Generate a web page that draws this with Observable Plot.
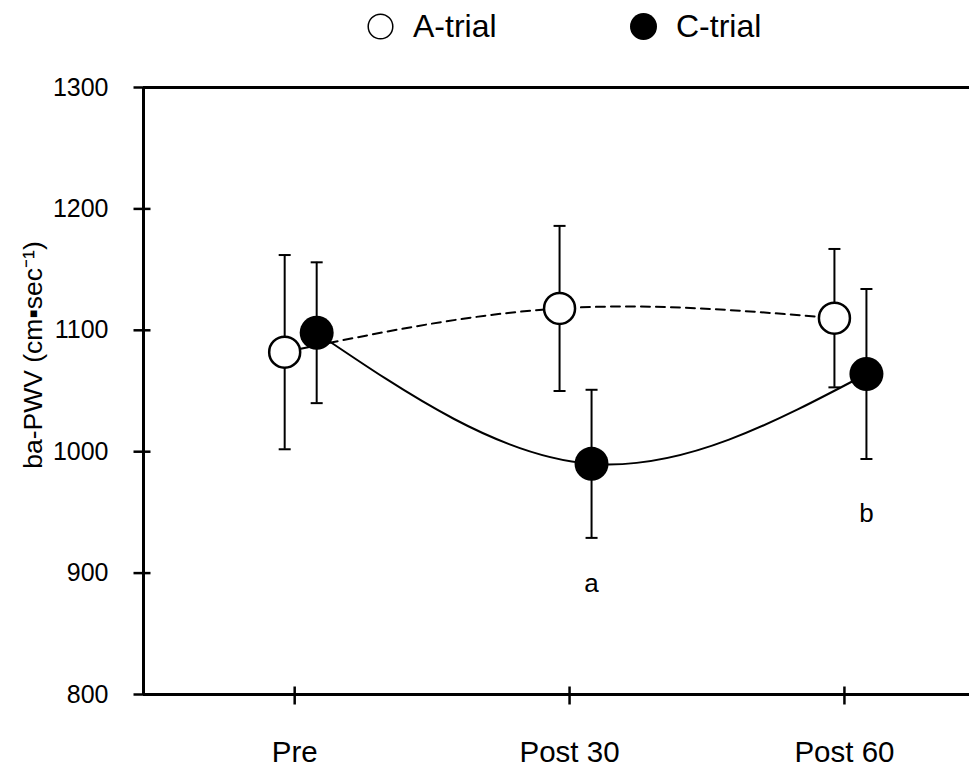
<!DOCTYPE html>
<html><head><meta charset="utf-8">
<script src="https://cdn.jsdelivr.net/npm/d3@7"></script>
<script src="https://cdn.jsdelivr.net/npm/@observablehq/plot@0.6"></script>
<style>
body{margin:0;background:#fff;font-family:"Liberation Sans",Arial,sans-serif;}
#legend{position:relative;height:55px;width:969px;}
.item{position:absolute;top:0;height:53px;display:flex;align-items:center;font-size:32px;color:#000;}
.item svg{margin-right:18px;}
</style></head><body>
<div id="legend"></div>
<div id="chart"></div>
<script>
const timepoints = ["Pre", "Post 30", "Post 60"];
const series = ["A-trial", "C-trial"];
const aMean = [1082, 1118, 1110];
const aSD = [80, 68, 57];
const cMean = [1098, 990, 1064];
const cSD = [58, 61, 70];
const annLabels = ["a", "b"];
const annIndex = [1, 2];
const annValue = [891, 949];
const yTicks = [800, 900, 1000, 1100, 1200, 1300];
const yTitle = "ba-PWV (cm\u25AAsec\u207B\u00B9)";

const rowsA = timepoints.map((t, i) => ({i, t, mean: aMean[i], sd: aSD[i]}));
const rowsC = timepoints.map((t, i) => ({i, t, mean: cMean[i], sd: cSD[i]}));
const ann = annLabels.map((l, k) => ({i: annIndex[k], v: annValue[k], label: l}));

// legend
const legend = document.getElementById("legend");
const legLeft = [366, 629];
series.forEach((s, k) => {
  const div = document.createElement("div");
  div.className = "item";
  div.style.left = legLeft[k] + "px";
  const filled = k === 1;
  div.innerHTML = `<svg width="29" height="29"><circle cx="14.5" cy="14.5" r="${filled ? 13.5 : 12.3}" fill="${filled ? "black" : "white"}" stroke="black" stroke-width="${filled ? 0 : 1.5}"/></svg><span>${s}</span>`;
  legend.appendChild(div);
});

const yTickSym = {draw(ctx) { ctx.moveTo(-10, 0); ctx.lineTo(7, 0); }};
const xTickSym = {draw(ctx) { ctx.moveTo(0, -8); ctx.lineTo(0, 10); }};
const capSym = {draw(ctx) { ctx.moveTo(-6, 0); ctx.lineTo(6, 0); }};

const xDomain = [-0.55, 2.455];
const dxA = -10, dxC = 22;

const errMarks = (rows, dx) => [
  Plot.ruleX(rows, {x: "i", y1: d => d.mean - d.sd, y2: d => d.mean + d.sd, dx, stroke: "black", strokeWidth: 2}),
  Plot.dot(rows, {x: "i", y: d => d.mean + d.sd, dx, symbol: capSym, fill: "none", stroke: "black", strokeWidth: 2}),
  Plot.dot(rows, {x: "i", y: d => d.mean - d.sd, dx, symbol: capSym, fill: "none", stroke: "black", strokeWidth: 2})
];

const chart = Plot.plot({
  width: 969, height: 714,
  marginTop: 32, marginBottom: 75, marginLeft: 143, marginRight: 0,
  x: {type: "linear", domain: xDomain},
  y: {domain: [800, 1300]},
  style: {fontFamily: "Liberation Sans, Arial, sans-serif", color: "black", background: "white", overflow: "visible"},
  marks: [
    Plot.ruleY([800, 1300], {stroke: "black", strokeWidth: 3}),
    Plot.ruleX([xDomain[0]], {y1: 800, y2: 1300, stroke: "black", strokeWidth: 3}),
    Plot.dot(yTicks, {y: d => d, frameAnchor: "left", symbol: yTickSym, fill: "none", stroke: "black", strokeWidth: 2.5}),
    Plot.axisY({ticks: yTicks, tickFormat: d3.format("d"), tickSize: 0, tickPadding: 35, fontSize: 25, label: null}),
    Plot.dot([0, 1, 2], {x: d => d, frameAnchor: "bottom", symbol: xTickSym, fill: "none", stroke: "black", strokeWidth: 2.5}),
    Plot.axisX({ticks: [0, 1, 2], tickFormat: i => timepoints[i], tickSize: 0, tickPadding: 47, fontSize: 29.5, label: null}),
    Plot.text([yTitle], {text: d => d, frameAnchor: "left", textAnchor: "middle", rotate: -90, dx: -110, dy: -36, fontSize: 26.5, fill: "black"}),
    Plot.line(rowsA, {x: "i", y: "mean", dx: dxA, curve: "natural", stroke: "black", strokeWidth: 2, strokeDasharray: "9,6"}),
    Plot.line(rowsC, {x: "i", y: "mean", dx: dxC, curve: "natural", stroke: "black", strokeWidth: 2}),
    ...errMarks(rowsA, dxA),
    ...errMarks(rowsC, dxC),
    Plot.dot(rowsA, {x: "i", y: "mean", dx: dxA, r: 15.5, fill: "white", stroke: "black", strokeWidth: 2.5}),
    Plot.dot(rowsC, {x: "i", y: "mean", dx: dxC, r: 17, fill: "black", stroke: "none"}),
    Plot.text(ann, {x: "i", y: "v", text: "label", dx: dxC, fontSize: 26, fill: "black"})
  ]
});
document.getElementById("chart").appendChild(chart);
</script>
</body></html>
